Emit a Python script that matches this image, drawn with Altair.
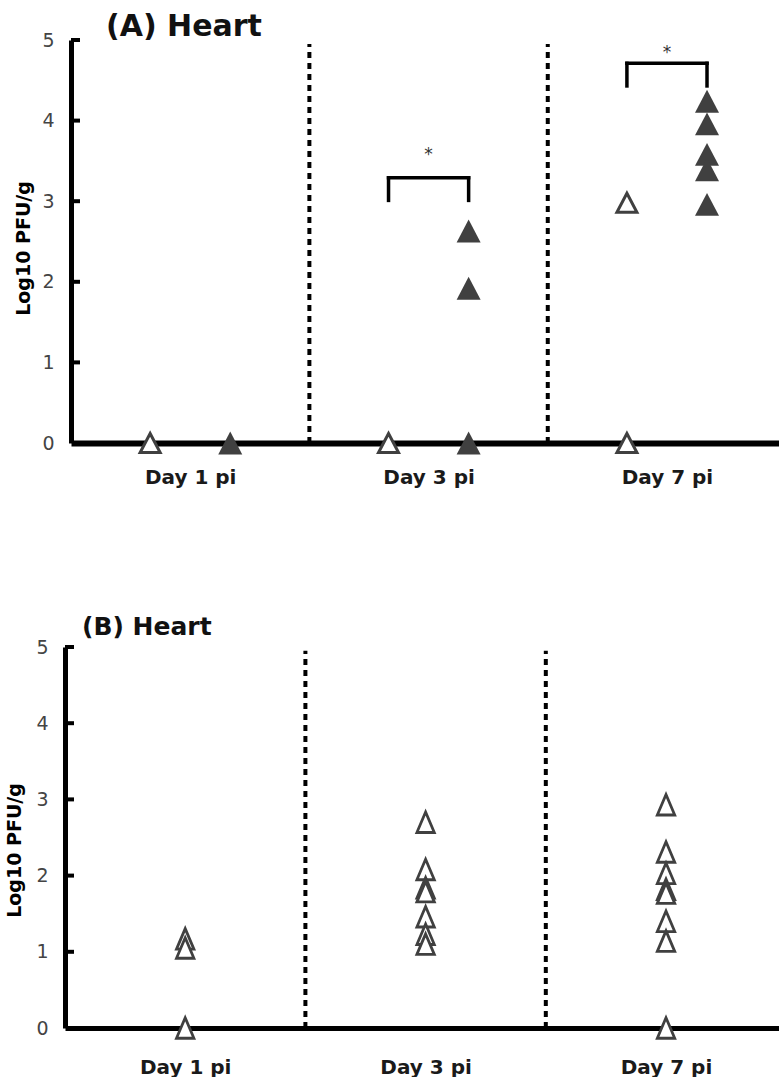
import json
import altair as alt
import pandas as pd

# ---------------- data ----------------
DAYS = ["Day 1 pi", "Day 3 pi", "Day 7 pi"]
Y_TICKS = [0, 1, 2, 3, 4, 5]

# Panel A: open triangles and filled triangles, one list per day
A_OPEN = [[0.0], [0.0], [2.98, 0.0]]
A_FILLED = [[0.0], [2.63, 1.92, 0.0], [4.24, 3.96, 3.58, 3.39, 2.96]]

# Panel A significance brackets (day index, bar height, leg foot, star height)
A_SIG_DAY = [1, 2]
A_SIG_TOP = [3.29, 4.71]
A_SIG_FOOT = [3.01, 4.43]
A_SIG_STAR = [3.57, 4.84]

# Panel B: open triangles, one list per day
B_OPEN = [
    [1.17, 1.05, 0.0],
    [2.70, 2.08, 1.84, 1.79, 1.46, 1.23, 1.10],
    [2.93, 2.31, 2.03, 1.82, 1.77, 1.40, 1.14, 0.0],
]

SEPARATORS = [0.5, 1.5]
SEP_TOP = 4.95

# ---------------- styling ----------------
DODGE = 0.168
FONT = "DejaVu Sans"
DARK = "#404040"
TRI_A = "M0,-0.95L1,0.95L-1,0.95Z"
TRI_B = "M0,-1L0.85,1L-0.85,1Z"
LABEL_EXPR = json.dumps(DAYS) + "[datum.value]"

# ---------------- tables ----------------
rows = []
for i, vals in enumerate(A_OPEN):
    for v in vals:
        rows.append({"x": i - DODGE, "y": v, "g": "open"})
for i, vals in enumerate(A_FILLED):
    for v in vals:
        rows.append({"x": i + DODGE, "y": v, "g": "filled"})
ptsA = pd.DataFrame(rows)

ptsB = pd.DataFrame(
    [{"x": float(i), "y": v} for i, vals in enumerate(B_OPEN) for v in vals]
)

sep = pd.DataFrame({"x": SEPARATORS, "y": [0.0] * len(SEPARATORS), "y2": [SEP_TOP] * len(SEPARATORS)})
ticks = pd.DataFrame({"y": Y_TICKS[1:]})

br_h = pd.DataFrame({
    "x": [d - DODGE for d in A_SIG_DAY],
    "x2": [d + DODGE for d in A_SIG_DAY],
    "y": A_SIG_TOP,
})
legs = []
for d, t, f in zip(A_SIG_DAY, A_SIG_TOP, A_SIG_FOOT):
    legs.append({"x": d - DODGE, "y": f, "y2": t})
    legs.append({"x": d + DODGE, "y": f, "y2": t})
br_v = pd.DataFrame(legs)
stars = pd.DataFrame({"x": [float(d) for d in A_SIG_DAY], "y": A_SIG_STAR, "t": ["*"] * len(A_SIG_DAY)})


def panel(points, shape, title, xrange, yoffset, title_x, title_y, title_dx,
          title_size, title_offset, height, xdomain_width, xlabel_pad, with_sig):
    xs = alt.Scale(domain=[-0.5, 2.47], nice=False, zero=False)
    if xrange is not None:
        xs = alt.Scale(domain=[-0.5, 2.47], nice=False, zero=False, range=xrange)
    ys = alt.Scale(domain=[0, 5], nice=False, zero=True)
    xaxis = alt.Axis(values=[0, 1, 2], labelExpr=LABEL_EXPR, ticks=False, grid=False,
                     labelPadding=xlabel_pad, labelFont=FONT, labelFontSize=20,
                     labelFontWeight="bold", labelColor="#1a1a1a", domainColor="black",
                     domainWidth=xdomain_width, title=None)
    yaxis = alt.Axis(values=Y_TICKS, format="d", ticks=False, grid=False, labelPadding=17,
                     labelFont=FONT, labelFontSize=19, labelColor="#444444",
                     domainColor="black", domainWidth=5, offset=yoffset,
                     title="Log10 PFU/g", titleFont=FONT, titleFontSize=19,
                     titleFontWeight="bold", titleColor="black", titleAngle=270,
                     titleX=title_x, titleY=title_y, titleAlign="center",
                     titleBaseline="middle")
    X = lambda f="x": alt.X(f"{f}:Q", scale=xs, axis=xaxis)
    Y = lambda f="y": alt.Y(f"{f}:Q", scale=ys, axis=yaxis)

    tick_x0 = -yoffset
    layers = [
        alt.Chart(sep).mark_rule(color="black", strokeWidth=4, strokeDash=[6, 5]).encode(
            x=X(), y=Y(), y2="y2:Q"),
        alt.Chart(ticks).mark_rule(color="black", strokeWidth=4).encode(
            y=Y(), x=alt.value(tick_x0), x2=alt.value(tick_x0 + 9)),
    ]
    if with_sig:
        layers += [
            alt.Chart(br_h).mark_rule(color="black", strokeWidth=3.5, strokeCap="square").encode(
                x=X(), x2="x2:Q", y=Y()),
            alt.Chart(br_v).mark_rule(color="black", strokeWidth=3.5, strokeCap="square").encode(
                x=X(), y=Y(), y2="y2:Q"),
            alt.Chart(stars).mark_text(font=FONT, fontSize=17, color="#333333",
                                       baseline="middle").encode(x=X(), y=Y(), text="t:N"),
        ]
        openp = points[points.g == "open"]
        filledp = points[points.g == "filled"]
        layers += [
            alt.Chart(openp).mark_point(shape=shape, size=400, filled=True, color="white",
                                        stroke=DARK, strokeWidth=3, opacity=1).encode(
                x=X(), y=Y()),
            alt.Chart(filledp).mark_point(shape=shape, size=576, filled=True, color=DARK,
                                          opacity=1).encode(x=X(), y=Y()),
        ]
    else:
        layers += [
            alt.Chart(points).mark_point(shape=shape, size=420, filled=True, color="white",
                                         stroke=DARK, strokeWidth=2.8, opacity=1).encode(
                x=X(), y=Y()),
        ]
    return alt.layer(*layers).properties(
        width=714, height=height,
        title=alt.TitleParams(text=title, anchor="start", frame="group", dx=title_dx,
                              offset=title_offset, font=FONT, fontSize=title_size,
                              fontWeight="bold", color="#111111", baseline="alphabetic"),
    )


chartA = panel(ptsA, TRI_A, "(A) Heart", [6, 714], -6, -48, 208, 41, 30, -34.5, 403, 6, 24, True)
chartB = panel(ptsB, TRI_B, "(B) Heart", None, 0, -50.5, 203, 17, 25, -22, 381, 5, 29, False)

chart = alt.vconcat(chartA, chartB, spacing=204, bounds="flush").properties(
    padding={"left": 5, "top": 11, "right": 0, "bottom": 0},
).configure_view(stroke=None)

chart.save("out.html", embed_options={"renderer": "svg", "actions": False})
